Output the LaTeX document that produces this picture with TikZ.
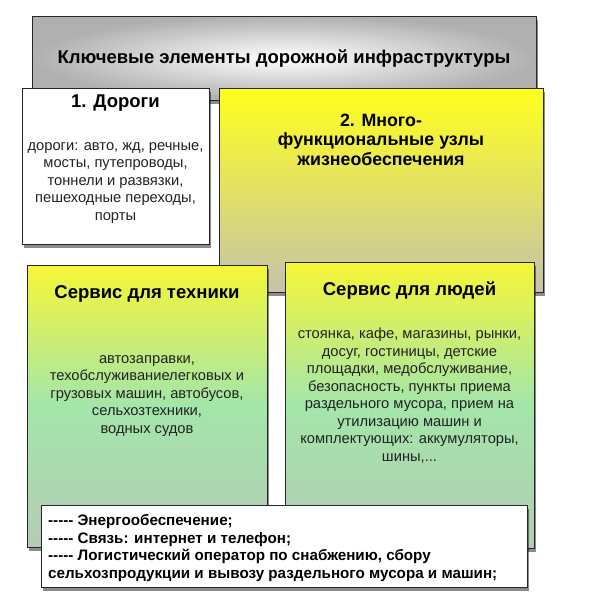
\documentclass[tikz,border=0pt]{standalone}
\usepackage{fontspec}
\setmainfont{Liberation Sans}
\usetikzlibrary{shadows}
\definecolor{infgray}{HTML}{B0B0B0}
\definecolor{infyellow}{HTML}{FFFF1E}
\definecolor{infsand}{HTML}{C5C2AC}
\definecolor{inftop}{HTML}{F6F636}
\definecolor{infmint}{HTML}{A3E6AA}
\definecolor{infsage}{HTML}{B4CCB4}
\definecolor{inftext}{HTML}{222222}
\newcommand\dashrun{\mbox{-}\mbox{-}\mbox{-}\mbox{-}\mbox{-}}

\tikzset{
  panel/.style={draw=black!85,line width=0.8pt,inner sep=0pt,
    drop shadow={shadow xshift=2pt,shadow yshift=-3.5pt,opacity=0.45,fill=black}},
  headtext/.style={font=\fontsize{18.5}{19.5}\selectfont\bfseries,align=center},
  bodytext/.style={font=\fontsize{14.7}{17.5}\selectfont,align=center,text=inftext},
  notetext/.style={font=\fontsize{15.2}{17.5}\selectfont\bfseries,align=left},
}

\begin{document}
\begin{tikzpicture}[x=1pt,y=-1pt]
  \useasboundingbox (0,0) rectangle (615,613);
  % boxes
  \node[panel,minimum width=504pt,minimum height=84pt,inner color=white,outer color=infgray] (infra) at (284,58) {};
  \node[panel,minimum width=187pt,minimum height=156pt,fill=white] (roads) at (115.5,166) {};
  \node[panel,minimum width=324pt,minimum height=204pt,top color=infyellow,bottom color=infsand] (hubs) at (381,190) {};
  \node[panel,minimum width=240pt,minimum height=282pt,top color=inftop,bottom color=infsage,middle color=infmint] (tech) at (147,406) {};
  \node[panel,minimum width=249pt,minimum height=286pt,top color=inftop,bottom color=infsage,middle color=infmint] (people) at (409.5,405) {};
  \node[panel,minimum width=486pt,minimum height=82pt,fill=white] (extras) at (284,546) {};
  % texts
  \node[headtext] (infraT) at ([yshift=-1pt]infra.center) {Ключевые элементы дорожной инфраструктуры};
  \node[headtext] (roadsT) at ([yshift=-15pt]roads.north) {1. Дороги};
  \node[bodytext] (roadsB) at ([yshift=-95pt]roads.north) {дороги: авто, жд, речные,\\мосты, путепроводы,\\тоннели и развязки,\\пешеходные переходы,\\порты};
  \node[headtext,font=\fontsize{17.8}{19.5}\selectfont\bfseries] (hubsT) at ([yshift=-52pt]hubs.north) {2. Много-\\функциональные узлы\\жизнеобеспечения};
  \node[headtext] (techT) at ([yshift=-29pt]tech.north) {Сервис для техники};
  \node[bodytext] (techB) at ([yshift=-131pt]tech.north) {автозаправки,\\техобслуживаниелегковых и\\грузовых машин, автобусов,\\сельхозтехники,\\водных судов};
  \node[headtext] (peopleT) at ([yshift=-29pt]people.north) {Сервис для людей};
  \node[bodytext] (peopleB) at ([yshift=-134pt]people.north) {стоянка, кафе, магазины, рынки,\\досуг, гостиницы, детские\\площадки, медобслуживание,\\безопасность, пункты приема\\раздельного мусора, прием на\\утилизацию машин и\\комплектующих: аккумуляторы,\\шины,...};
  \node[notetext,anchor=west] (extrasT) at ([xshift=4pt,yshift=-2pt]extras.west) {\dashrun{} Энергообеспечение;\\\dashrun{} Связь: интернет и телефон;\\\dashrun{} Логистический оператор по снабжению, сбору\\сельхозпродукции и вывозу раздельного мусора и машин;};
\end{tikzpicture}
\end{document}
